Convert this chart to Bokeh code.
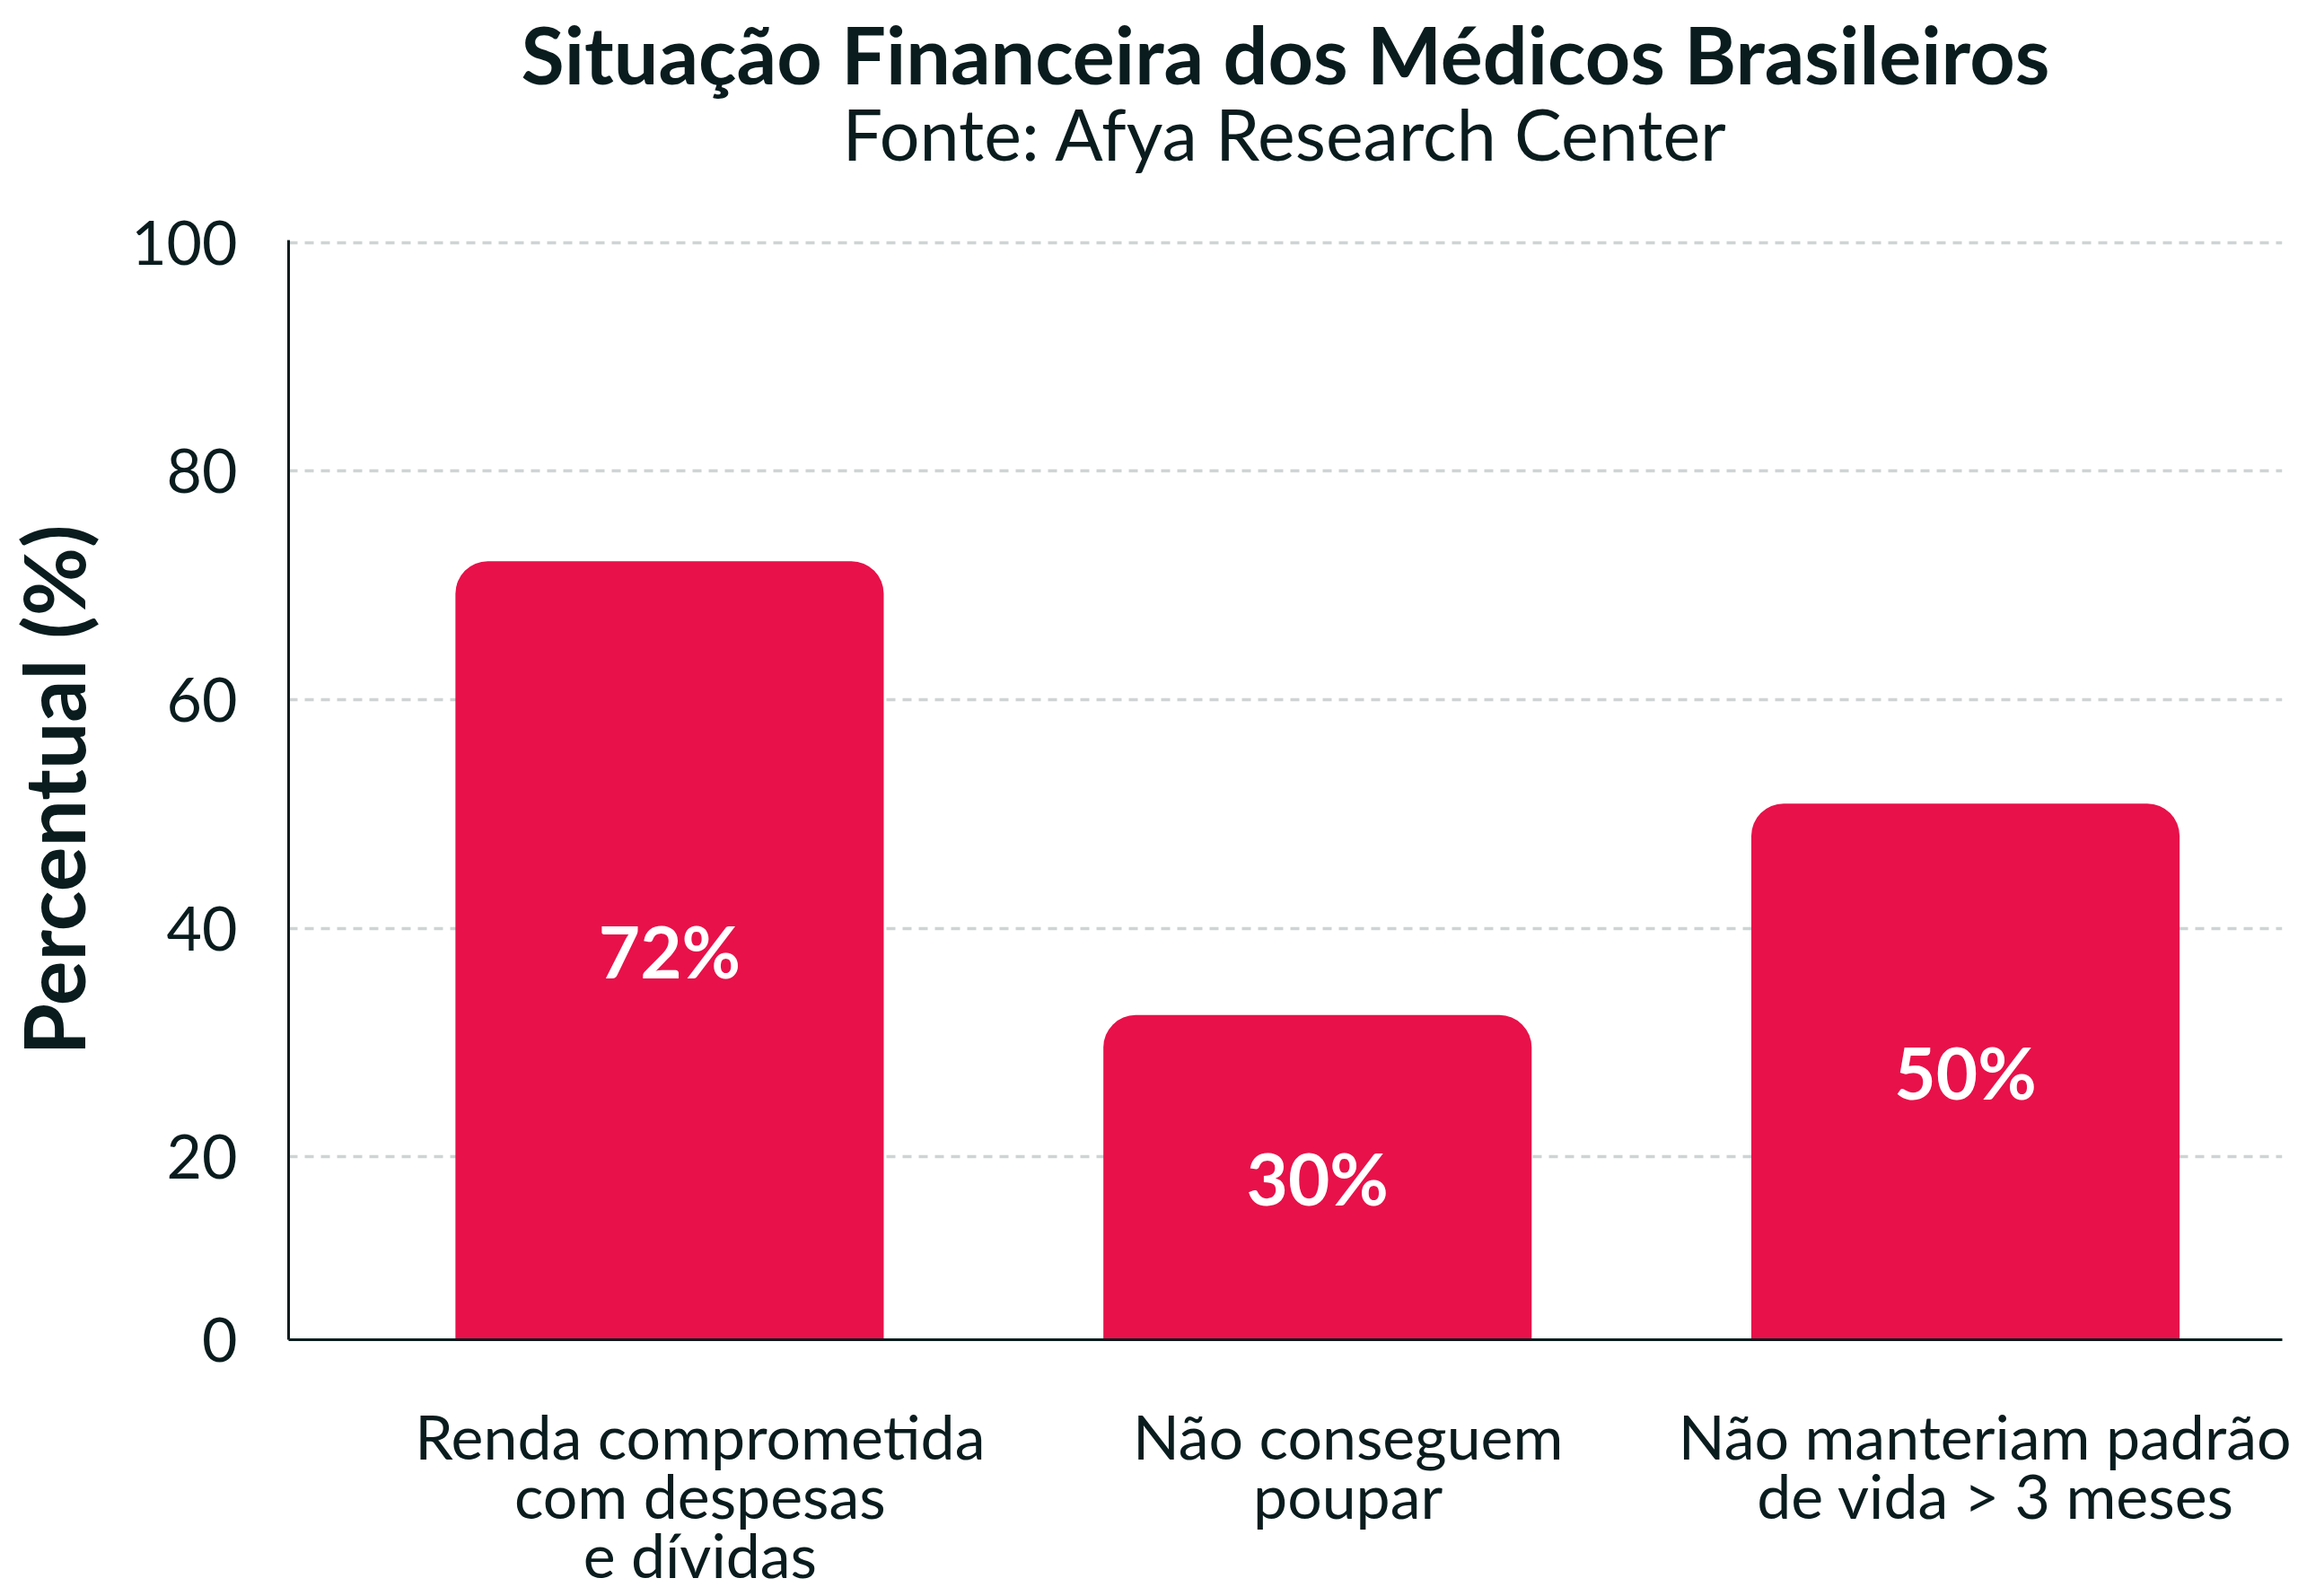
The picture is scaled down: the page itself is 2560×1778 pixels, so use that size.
from bokeh.plotting import figure
from bokeh.models import Range1d, FixedTicker, ColumnDataSource, Title, LinearAxis
from bokeh.core.properties import value
from bokeh.embed import file_html
from bokeh.resources import INLINE

# ---- data ----
categories = [
    "Renda comprometida\ncom despesas\ne dívidas",
    "Não conseguem\npoupar",
    "Não manteriam padrão\nde vida > 3 meses",
]
percent_values = [72.1, 32.4, 50.9]
value_labels = ["72%", "30%", "50%"]
y_tick_values = [0, 20, 40, 60, 80, 100]
y_tick_labels = ["0", "20", "40", "60", "80", "100"]
y_axis_start = 4
y_axis_end = 100.2
title_text = "Situação Financeira dos Médicos Brasileiros"
subtitle_text = "Fonte: Afya Research Center"
y_axis_title = "Percentual (%)"

# ---- style ----
BAR_COLOR = "#E8114A"
TEXT_COLOR = "#0A1C1E"
GRID_COLOR = "#CFD3D3"
FONT = "Lato"
BAR_WIDTH = 0.661
X_START, X_END = -0.588, 2.489
LABEL_SHIFT = 0.047


def make_title(text, size, style, standoff, valign="bottom"):
    kw = dict(text=text, text_font=FONT, text_font_size=size,
              text_font_style=style, text_color=TEXT_COLOR,
              align="center", vertical_align=valign)
    try:
        return Title(standoff=standoff, **kw)
    except Exception:
        return Title(standoff=max(standoff, 0), **kw)


xs = list(range(len(categories)))
src = ColumnDataSource(dict(
    x=xs,
    top=percent_values,
    label=value_labels,
    label_y=[(y_axis_start + v) / 2 for v in percent_values],
))

p = figure(
    width=2552, height=1774,
    x_range=Range1d(X_START, X_END),
    y_range=Range1d(y_axis_start, y_axis_end),
    output_backend="svg", toolbar_location=None, title=None,
    min_border_left=321, min_border_right=10,
    min_border_top=267, min_border_bottom=282,
)
p.outline_line_color = None
p.background_fill_color = "white"
p.border_fill_color = "white"

p.vbar(x="x", top="top", bottom=0, width=BAR_WIDTH, source=src,
       fill_color=BAR_COLOR, line_color=None,
       border_radius=(36, 36, 0, 0))

p.text(x="x", y="label_y", text="label", source=src,
       text_font=value(FONT), text_font_style="bold",
       text_font_size="80px", text_color="white",
       text_align="center", text_baseline="middle")

# ---- y axis ----
yaxis = p.left[0]
yticks = [y_axis_start] + y_tick_values[1:]
yaxis.ticker = FixedTicker(ticks=yticks)
yaxis.major_label_overrides = {t: l for t, l in zip(yticks, y_tick_labels)}
yaxis.axis_label = y_axis_title
yaxis.axis_label_text_font = FONT
yaxis.axis_label_text_font_style = "bold"
yaxis.axis_label_text_font_size = "93px"
yaxis.axis_label_text_color = TEXT_COLOR
yaxis.axis_label_standoff = 28
yaxis.major_label_text_font = FONT
yaxis.major_label_text_font_size = "68px"
yaxis.major_label_text_color = TEXT_COLOR
yaxis.major_label_standoff = 57
yaxis.major_tick_out = 0
yaxis.major_tick_in = 0
yaxis.minor_tick_out = 0
yaxis.minor_tick_in = 0
yaxis.axis_line_color = TEXT_COLOR
yaxis.axis_line_width = 3

# ---- x axis: one axis per text line of the category labels ----
xticks = [i + LABEL_SHIFT for i in xs]
split = [c.split("\n") for c in categories]
n_lines = max(len(s) for s in split)
LINE_STANDOFFS = [66, -18, -18]


def style_x(ax, line_idx):
    ax.ticker = FixedTicker(ticks=xticks)
    ax.major_label_overrides = {
        t: (s[line_idx] if line_idx < len(s) else " ") for t, s in zip(xticks, split)
    }
    ax.major_label_text_font = FONT
    ax.major_label_text_font_size = "68px"
    ax.major_label_text_color = TEXT_COLOR
    ax.major_label_standoff = LINE_STANDOFFS[line_idx]
    ax.major_tick_out = 0
    ax.major_tick_in = 0
    ax.minor_tick_out = 0
    ax.minor_tick_in = 0


main_x = p.below[0]
style_x(main_x, 0)
main_x.axis_line_color = TEXT_COLOR
main_x.axis_line_width = 3
for li in range(1, n_lines):
    ax = LinearAxis()
    style_x(ax, li)
    ax.axis_line_color = None
    p.add_layout(ax, "below")

# ---- blank spacer axis between the frame and the titles ----
spacer = LinearAxis(ticker=FixedTicker(ticks=[]), axis_line_color=None,
                    major_tick_out=0, major_tick_in=0,
                    minor_tick_out=0, minor_tick_in=0,
                    major_label_standoff=0,
                    axis_label=" ", axis_label_text_font_size="1px",
                    axis_label_standoff=82, axis_label_text_alpha=0)
p.add_layout(spacer, "above")

# titles (first added = closest to the frame)
p.add_layout(make_title(subtitle_text, "79px", "normal", -28), "above")
p.add_layout(make_title(title_text, "88px", "bold", 0), "above")

# grid
p.xgrid.grid_line_color = None
p.ygrid.grid_line_color = GRID_COLOR
p.ygrid.grid_line_width = 3.5
p.ygrid.grid_line_dash = "10 8"

open("out.html", "w").write(file_html(p, INLINE))
